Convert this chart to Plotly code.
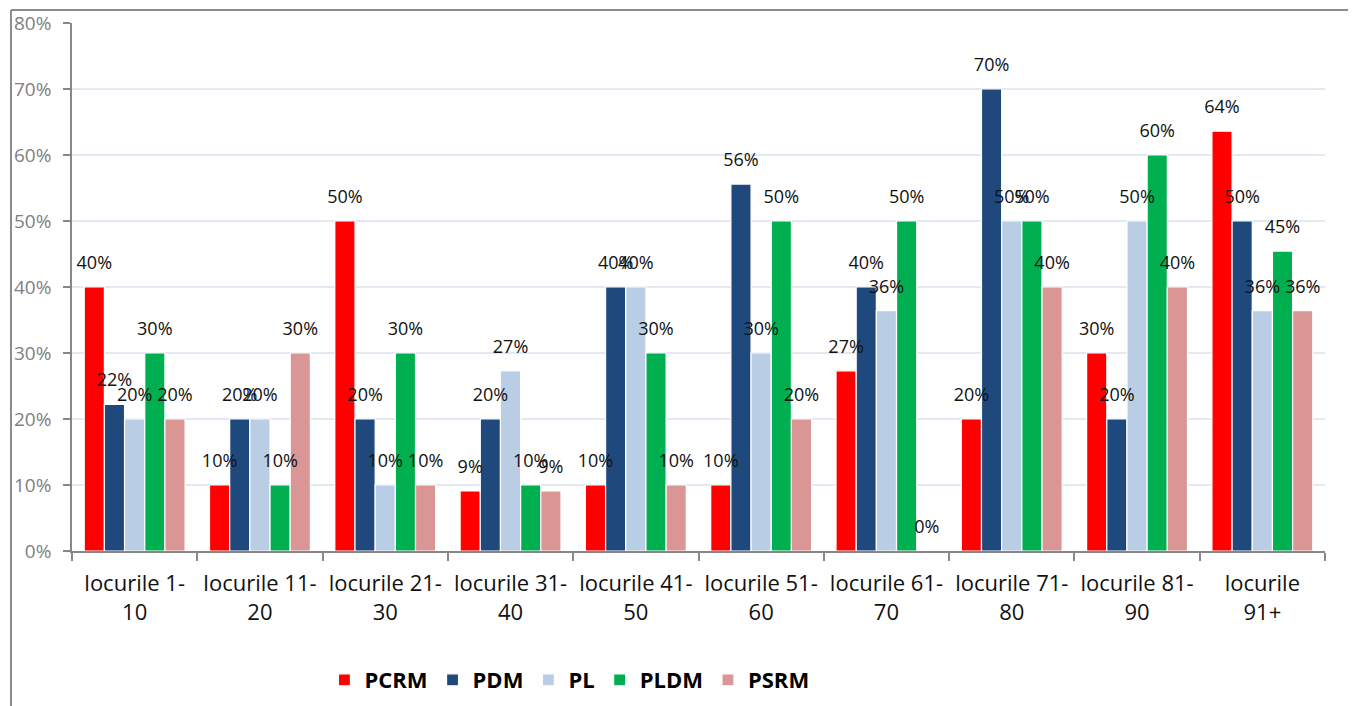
import plotly.graph_objects as go

categories = ["locurile 1-<br>10", "locurile 11-<br>20", "locurile 21-<br>30", "locurile 31-<br>40",
              "locurile 41-<br>50", "locurile 51-<br>60", "locurile 61-<br>70", "locurile 71-<br>80",
              "locurile 81-<br>90", "locurile<br>91+"]

PCRM = [0.40, 0.10, 0.50, 0.091, 0.10, 0.10, 0.273, 0.20, 0.30, 0.636]
PDM = [0.222, 0.20, 0.20, 0.20, 0.40, 0.556, 0.40, 0.70, 0.20, 0.50]
PL = [0.20, 0.20, 0.10, 0.273, 0.40, 0.30, 0.364, 0.50, 0.50, 0.364]
PLDM = [0.30, 0.10, 0.30, 0.10, 0.30, 0.50, 0.50, 0.50, 0.60, 0.4545]
PSRM = [0.20, 0.30, 0.10, 0.091, 0.10, 0.20, 0.0, 0.40, 0.40, 0.364]

series = [("PCRM", PCRM, "#FF0000"), ("PDM", PDM, "#1F497D"), ("PL", PL, "#B9CDE5"),
          ("PLDM", PLDM, "#00B050"), ("PSRM", PSRM, "#D99694")]

GAP = 0.195
fig = go.Figure()
for name, vals, col in series:
    fig.add_trace(go.Bar(x=categories, y=vals, name=name, marker=dict(color=col, line=dict(color="white", width=1.2)),
                         offsetgroup=name, hoverinfo="skip"))
for name, vals, col in series:
    fig.add_trace(go.Scatter(x=categories, y=vals, mode="markers+text", offsetgroup=name, orientation="v",
                             text=[f"{round(v*100):.0f}%" for v in vals], textposition="top center",
                             textfont=dict(family="Open Sans", size=18, color="#111111"),
                             marker=dict(size=20, opacity=0), showlegend=False, cliponaxis=False,
                             hoverinfo="skip"))

fig.update_layout(
    barmode="group", bargap=GAP, bargroupgap=0, scattermode="group", scattergap=GAP,
    width=1356, height=706, paper_bgcolor="white", plot_bgcolor="white",
    margin=dict(l=64, r=39, t=15, b=163, autoexpand=False),
    font=dict(family="Open Sans", color="#000000"),
    legend=dict(orientation="h", x=0.397, xanchor="center", y=-0.2443, yanchor="middle",
                font=dict(size=22, family="Open Sans", color="#000000", weight="bold"),
                itemwidth=30, tracegroupgap=0),
    xaxis=dict(type="category", showline=True, linecolor="#888888", linewidth=1.5,
               ticks="outside", tickson="boundaries", ticklen=8, tickcolor="#888888", tickwidth=1.5,
               ticklabelstandoff=12, tickangle=0,
               tickfont=dict(size=22, family="Open Sans", color="#111111"), showgrid=False),
    yaxis=dict(range=[0, 0.8], dtick=0.1, tickformat=".0%", showline=True, linecolor="#888888", linewidth=1.5,
               ticks="outside", ticklen=7, tickcolor="#888888", tickwidth=1.5, ticklabelstandoff=8,
               tickfont=dict(size=19, family="Open Sans", color="#808080"),
               showgrid=True, gridcolor="#E3E9F3", gridwidth=1.5, zeroline=False),
    shapes=[
        dict(type="line", xref="paper", yref="paper", x0=-0.0487, x1=1.05, y0=1.0246, y1=1.0246,
             line=dict(color="#8C8C8C", width=2)),
        dict(type="line", xref="paper", yref="paper", x0=-0.0487, x1=-0.0487, y0=1.0246, y1=-0.35,
             line=dict(color="#8C8C8C", width=2)),
    ],
)

fig.write_html("out.html")
